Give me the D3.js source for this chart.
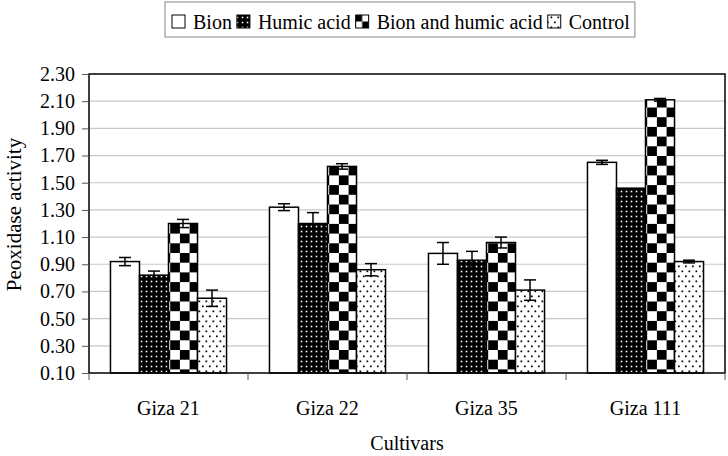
<!DOCTYPE html>
<html>
<head>
<meta charset="utf-8">
<script src="https://cdn.jsdelivr.net/npm/d3@7/dist/d3.min.js"></script>
<style>
  html, body { margin: 0; padding: 0; background: #fff; }
  svg { display: block; }
  svg text { font-family: "Liberation Serif", "Times New Roman", serif !important; fill: #000; }
</style>
</head>
<body>
<svg id="chart" width="728" height="456"></svg>
<script>
const categories = ["Giza 21", "Giza 22", "Giza 35", "Giza 111"];
const seriesNames = ["Bion", "Humic acid", "Bion and humic acid", "Control"];
const bion        = [0.92, 1.32, 0.98, 1.65];
const humic       = [0.82, 1.20, 0.93, 1.46];
const bionHumic   = [1.20, 1.62, 1.06, 2.11];
const control     = [0.65, 0.86, 0.71, 0.92];
const bionErr      = [0.03, 0.025, 0.08, 0.015];
const humicErr     = [0.03, 0.08, 0.065, 0.0];
const bionHumicErr = [0.03, 0.02, 0.04, 0.01];
const controlErr   = [0.06, 0.045, 0.075, 0.01];
const yTicks = [0.10, 0.30, 0.50, 0.70, 0.90, 1.10, 1.30, 1.50, 1.70, 1.90, 2.10, 2.30];
const yTitle = "Peoxidase activity";
const xTitle = "Cultivars";

const values = [bion, humic, bionHumic, control];
const errors = [bionErr, humicErr, bionHumicErr, controlErr];
const FONT = '"Liberation Serif", "Times New Roman", serif';

const svg = d3.select("#chart");
const m = { left: 89, right: 3, top: 74, bottom: 83 };
const W = 728 - m.left - m.right, H = 456 - m.top - m.bottom;

const defs = svg.append("defs");
// Humic: black with white dots
const ph = defs.append("pattern").attr("id", "p1").attr("patternUnits", "userSpaceOnUse")
  .attr("width", 5).attr("height", 5);
ph.append("rect").attr("width", 5).attr("height", 5).attr("fill", "#000");
ph.append("rect").attr("x", 1.7).attr("y", 1.7).attr("width", 1.6).attr("height", 1.6).attr("fill", "#fff");
// Control: white with black dots, staggered
const pc = defs.append("pattern").attr("id", "p3").attr("patternUnits", "userSpaceOnUse")
  .attr("width", 7).attr("height", 10);
pc.append("rect").attr("width", 7).attr("height", 10).attr("fill", "#fff");
pc.append("rect").attr("x", 1).attr("y", 1.5).attr("width", 1.7).attr("height", 1.7).attr("fill", "#000");
pc.append("rect").attr("x", 4.5).attr("y", 6.5).attr("width", 1.7).attr("height", 1.7).attr("fill", "#000");

function checker(id, x0, y0, s) {
  const p = defs.append("pattern").attr("id", id).attr("patternUnits", "userSpaceOnUse")
    .attr("x", x0).attr("y", y0).attr("width", 2 * s).attr("height", 2 * s);
  p.append("rect").attr("width", 2 * s).attr("height", 2 * s).attr("fill", "#fff");
  p.append("rect").attr("width", s).attr("height", s).attr("fill", "#000");
  p.append("rect").attr("x", s).attr("y", s).attr("width", s).attr("height", s).attr("fill", "#000");
}

const g = svg.append("g").attr("transform", `translate(${m.left},${m.top})`);

const x0 = d3.scaleBand().domain(categories).range([0, W]).paddingInner(0.27).paddingOuter(0.135);
const x1 = d3.scaleBand().domain(seriesNames).range([0, x0.bandwidth()]);
const y = d3.scaleLinear().domain([0.10, 2.30]).range([H, 0]);

// gridlines
g.append("g").selectAll("line").data(yTicks.slice(1, -1)).join("line")
  .attr("x1", 0).attr("x2", W).attr("y1", d => y(d)).attr("y2", d => y(d))
  .attr("stroke", "#c8c8c8").attr("stroke-width", 1.2);

// bars
const fills = ["#fff", "url(#p1)", null, "url(#p3)"];
seriesNames.forEach((s, si) => {
  categories.forEach((c, ci) => {
    const bx = x0(c) + x1(s), bw = x1.bandwidth();
    const v = values[si][ci];
    let fill = fills[si];
    if (si === 2) {
      const id = "chk" + ci;
      checker(id, m.left + bx, m.top + H, 9.7);
      fill = `url(#${id})`;
    }
    g.append("rect").attr("x", bx).attr("y", y(v)).attr("width", bw).attr("height", H - y(v))
      .attr("fill", fill).attr("stroke", "#000").attr("stroke-width", 1.5);
  });
});

// error bars
seriesNames.forEach((s, si) => {
  categories.forEach((c, ci) => {
    const e = errors[si][ci];
    if (!e) return;
    const cx = x0(c) + x1(s) + x1.bandwidth() / 2;
    const v = values[si][ci];
    const eg = g.append("g").attr("stroke", "#000").attr("stroke-width", 1.5);
    eg.append("line").attr("x1", cx).attr("x2", cx).attr("y1", y(v + e)).attr("y2", y(v - e));
    [v + e, v - e].forEach(t => eg.append("line").attr("x1", cx - 6).attr("x2", cx + 6)
      .attr("y1", y(t)).attr("y2", y(t)));
  });
});

// frame
g.append("rect").attr("x", 0).attr("y", 0).attr("width", W).attr("height", H)
  .attr("fill", "none").attr("stroke", "#000").attr("stroke-width", 1.5);

// y axis
const yAxis = d3.axisLeft(y).tickValues(yTicks).tickFormat(d3.format(".2f")).tickSize(7).tickPadding(7);
const ya = g.append("g").call(yAxis).attr("font-family", FONT).attr("font-size", 20);
ya.select(".domain").remove();
ya.selectAll("line").attr("stroke", "#555");
ya.selectAll("text").attr("font-family", FONT).style("font-family", FONT).style("font-size", "20px").attr("fill", "#000");

// x axis: ticks at band boundaries
const bounds = [0].concat(categories.map(c => x0(c) + x0.bandwidth() + x0.step() * x0.paddingInner() / 2));
bounds[bounds.length - 1] = W;
g.append("g").selectAll("line").data(bounds).join("line")
  .attr("x1", d => d).attr("x2", d => d).attr("y1", H).attr("y2", H + 7)
  .attr("stroke", "#555").attr("stroke-width", 1);
g.append("g").selectAll("text").data(categories).join("text")
  .attr("x", d => x0(d) + x0.bandwidth() / 2).attr("y", H + 42)
  .attr("text-anchor", "middle").attr("font-family", FONT).style("font-family", FONT)
  .style("font-size", "20px").text(d => d);

// titles
svg.append("text").attr("transform", `translate(21,${m.top + H / 2 - 9}) rotate(-90)`)
  .attr("text-anchor", "middle").style("font-family", FONT).style("font-size", "21px").text(yTitle);
svg.append("text").attr("x", m.left + W / 2).attr("y", 450)
  .attr("text-anchor", "middle").style("font-family", FONT).style("font-size", "20px").text(xTitle);

// legend
const lg = svg.append("g");
const box = lg.append("rect").attr("x", 165).attr("y", 2).attr("height", 35)
  .attr("fill", "#fff").attr("stroke", "#999").attr("stroke-width", 1.2);
let lx = 172;
const legFills = ["#fff", "url(#p1)", "url(#legchk)", "url(#p3)"];
seriesNames.forEach((s, si) => {
  if (si === 2) checker("legchk", lx, 15, 6.5);
  lg.append("rect").attr("x", lx).attr("y", 15).attr("width", 13).attr("height", 13)
    .attr("fill", legFills[si]).attr("stroke", "#000").attr("stroke-width", 1);
  const t = lg.append("text").attr("x", lx + 21).attr("y", 29)
    .attr("font-family", FONT).style("font-family", FONT).style("font-size", "20px").text(s);
  lx = lx + 21 + t.node().getComputedTextLength() + 5;
});
box.attr("width", lx - 165);
</script>
</body>
</html>
